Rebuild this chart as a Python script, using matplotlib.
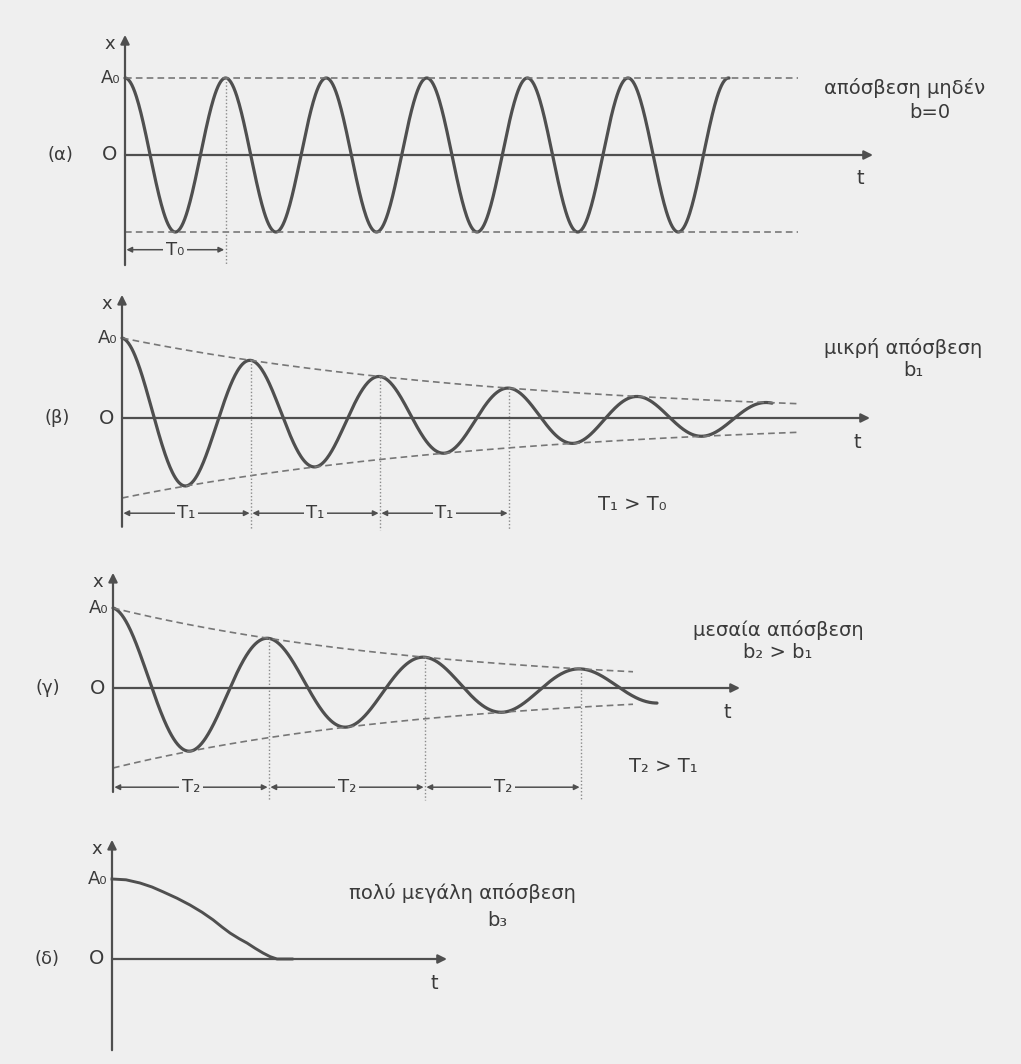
import numpy as np
import matplotlib.pyplot as plt

W, H = 1021, 1064
bg = '#efefef'
ink = '#4f4f4f'
txt = '#3a3a3a'

# oscillation parameters (time unit = one grid step)
periods = [1.006, 1.29, 1.56]          # T0, T1, T2
decay_per_period = [1.0, 0.72, 0.62]   # ratio of successive peaks
t_end = [6.04, 6.50, 5.44]
env_end = [6.73, 6.75, 5.20]
n_marked = [1, 3, 3]                   # how many periods get a dimension line
period_names = ['T₀', 'T₁', 'T₂']
panel_tags = ['(α)', '(β)', '(γ)', '(δ)']

# very large damping
t_over = [0.0, 0.14, 0.28, 0.40, 0.51, 0.65, 0.78, 0.90, 1.01, 1.10, 1.18,
          1.27, 1.35, 1.43, 1.51, 1.58, 1.65, 1.80]
x_over = [1.0, 0.99, 0.95, 0.90, 0.84, 0.76, 0.675, 0.585, 0.49, 0.40, 0.325,
          0.255, 0.20, 0.135, 0.075, 0.03, 0.0, 0.0]

# panel geometry in pixels: top, bottom, origin x, origin y, px per A0
geom = [
    (25, 275, 125, 155, 77),
    (285, 540, 122, 418, 80),
    (560, 810, 113, 688, 80),
    (830, 1062, 112, 959, 80),
]
# axis extents in data units: t max, x top, x bottom
axes_ext = [(7.48, 1.56, -1.43), (7.48, 1.54, -1.36),
            (6.27, 1.44, -1.30), (3.35, 1.49, -1.14)]
dim_y = [-1.23, -1.19, -1.24]
drop_bottom = [-1.43, -1.40, -1.40]

plt.rcParams['font.family'] = ['DejaVu Sans']
fig = plt.figure(figsize=(W / 100, H / 100), dpi=100, facecolor=bg)


def panel(top, bottom, ox, oy, ypx):
    ax = fig.add_axes([0, 1 - bottom / H, 1, (bottom - top) / H])
    ax.set_xlim(-ox / 100, (W - ox) / 100)
    ax.set_ylim((oy - bottom) / ypx, (oy - top) / ypx)
    ax.axis('off')
    ax.patch.set_alpha(0)
    return ax


def draw_axes(ax, tmax, xtop, xbot, tag):
    arr = dict(arrowstyle='-|>', color=ink, lw=1.6, mutation_scale=13,
               shrinkA=0, shrinkB=0)
    ax.annotate('', xy=(tmax, 0), xytext=(0, 0), arrowprops=arr)
    ax.annotate('', xy=(0, xtop), xytext=(0, xbot), arrowprops=arr)
    ax.text(-0.15, xtop - 0.12, 'x', ha='center', va='center', fontsize=13, color=txt)
    ax.text(-0.05, 1.0, 'A₀', ha='right', va='center', fontsize=13, color=txt)
    ax.text(-0.08, 0, 'O', ha='right', va='center', fontsize=14, color=txt)
    ax.text(-0.65, 0, tag, ha='center', va='center', fontsize=13, color=txt)
    ax.text(tmax - 0.13, -0.31, 't', ha='center', va='center', fontsize=14, color=txt)


axs = [panel(*g) for g in geom]

for i in range(3):
    ax = axs[i]
    T, q = periods[i], decay_per_period[i]
    draw_axes(ax, *axes_ext[i], panel_tags[i])
    t = np.linspace(0, t_end[i], 800)
    x = q ** (t / T) * np.cos(2 * np.pi * t / T)
    ax.plot(t, x, color=ink, lw=2.3, solid_capstyle='round')
    te = np.linspace(0, env_end[i], 200)
    env = q ** (te / T)
    ax.plot(te, env, color='#777777', lw=1.2, ls=(0, (4, 2.5)))
    ax.plot(te, -env, color='#777777', lw=1.2, ls=(0, (4, 2.5)))
    for k in range(1, n_marked[i] + 1):
        ax.plot([k * T, k * T], [q ** k, drop_bottom[i]], color='#8a8a8a',
                lw=1.0, ls=(0, (1, 1.5)))
        ax.annotate('', xy=(k * T, dim_y[i]), xytext=((k - 1) * T, dim_y[i]),
                    arrowprops=dict(arrowstyle='<|-|>', color=ink, lw=1.1,
                                    mutation_scale=8, shrinkA=1, shrinkB=1))
        ax.text((k - 0.5) * T, dim_y[i], period_names[i], ha='center', va='center',
                fontsize=13, color=txt,
                bbox=dict(boxstyle='square,pad=0.15', fc=bg, ec='none'))

ax = axs[3]
draw_axes(ax, *axes_ext[3], panel_tags[3])
ax.plot(t_over, x_over, color=ink, lw=2.1, solid_joinstyle='round')


def ftext(px, py, s, size=14):
    fig.text(px / W, 1 - py / H, s, ha='center', va='center', fontsize=size, color=txt)


ftext(905, 88, 'απόσβεση μηδέν')
ftext(930, 113, 'b=0')
ftext(903, 348, 'μικρή απόσβεση')
ftext(913, 370, 'b₁')
ftext(632, 505, 'T₁ > T₀')
ftext(778, 630, 'μεσαία απόσβεση')
ftext(778, 653, 'b₂ > b₁')
ftext(663, 767, 'T₂ > T₁')
ftext(462, 893, 'πολύ μεγάλη απόσβεση')
ftext(497, 920, 'b₃')

fig.savefig('out.png', dpi=100, facecolor=bg)
